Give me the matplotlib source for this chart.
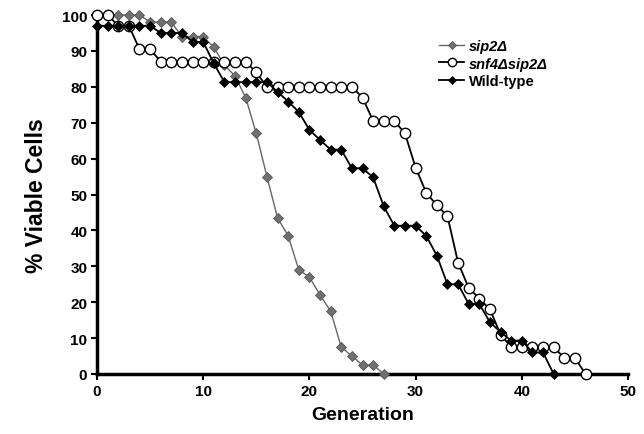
import matplotlib
matplotlib.use('Agg')
import matplotlib.pyplot as plt

plt.rcParams['font.family'] = ['Liberation Sans', 'DejaVu Sans']
plt.rcParams['font.weight'] = 'bold'

# ---- data ----
gen_sip2 = list(range(0, 28))
sip2 = [100, 100, 100, 100, 100, 98, 98, 98, 94, 94, 94, 91, 86, 83, 77, 67,
        55, 43.5, 38.5, 29, 27, 22, 17.5, 7.5, 5, 2.5, 2.5, 0]

gen_snf4 = list(range(0, 47))
snf4 = [100, 100, 97, 97, 90.5, 90.5,
        87, 87, 87, 87, 87, 87, 87, 87, 87,
        84,
        80, 80, 80, 80, 80, 80, 80, 80, 80,
        77, 70.5, 70.5, 70.5, 67, 57.5, 50.5, 47, 44, 31, 24, 21, 18, 11,
        7.5, 7.5, 7.5, 7.5, 7.5, 4.5, 4.5, 0]

gen_wt = list(range(0, 44))
wt = [97, 97, 97, 97, 97, 97, 95, 95, 95, 92.5, 92.5, 86.5,
      81.3, 81.3, 81.3, 81.3, 81.3, 78.6, 75.9, 73, 68, 65.2, 62.5, 62.5,
      57.3, 57.3, 54.8, 46.7, 41.3, 41.3, 41.3, 38.5, 33, 25, 25,
      19.5, 19.5, 14.4, 11.7, 9.3, 9.3, 6, 6, 0]

labels = ['sip2Δ', 'snf4Δsip2Δ', 'Wild-type']
x_ticks = [0, 10, 20, 30, 40, 50]
y_ticks = [0, 10, 20, 30, 40, 50, 60, 70, 80, 90, 100]

fig = plt.figure(figsize=(6.44, 4.35), dpi=100)
ax = fig.add_axes([97/644, 1 - 375/435, (628 - 97)/644, (375 - 16)/435])

ax.plot(gen_sip2, sip2, color='#666666', lw=1.0, marker='D', ms=5.4,
        mfc='#707070', mec='#555555', mew=0.6, clip_on=False, zorder=3,
        label=labels[0])
ax.plot(gen_snf4, snf4, color='black', lw=1.3, marker='o', ms=7.5,
        mfc='white', mec='black', mew=1.0, clip_on=False, zorder=4,
        label=labels[1])
ax.plot(gen_wt, wt, color='black', lw=1.3, marker='D', ms=5.4,
        mfc='black', mec='black', mew=0.5, clip_on=False, zorder=5,
        label=labels[2])

ax.set_xlim(0, 50)
ax.set_ylim(0, 100)
ax.set_xticks(x_ticks)
ax.set_yticks(y_ticks)
ax.tick_params(axis='both', direction='out', length=4, width=1.5,
               labelsize=11, pad=3)
for lab in ax.get_xticklabels() + ax.get_yticklabels():
    lab.set_fontweight('bold')

for s in ['top', 'right']:
    ax.spines[s].set_visible(False)
for s in ['left', 'bottom']:
    ax.spines[s].set_linewidth(2.5)

ax.set_xlabel('Generation', fontsize=14, fontweight='bold', labelpad=6)
ax.set_ylabel('% Viable Cells', fontsize=16.5, fontweight='bold', labelpad=10)

leg = ax.legend(loc='upper left', bbox_to_anchor=(0.62, 0.97), frameon=False,
                handlelength=1.7, handletextpad=0.3, labelspacing=0.25,
                prop={'size': 10.5, 'weight': 'bold'}, markerscale=0.8)
leg.get_texts()[0].set_fontstyle('italic')
leg.get_texts()[1].set_fontstyle('italic')

fig.savefig('out.png', dpi=100)
